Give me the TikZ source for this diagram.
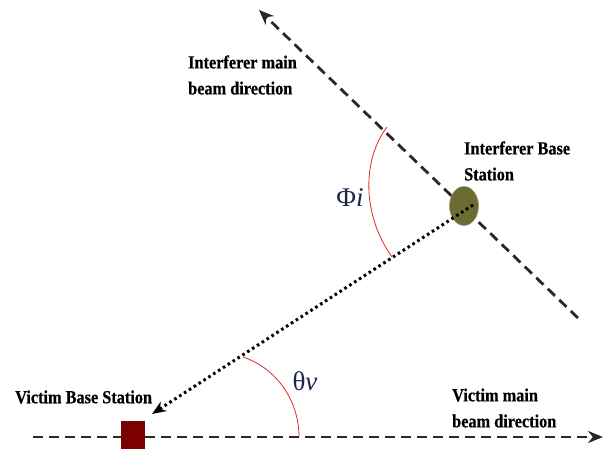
\documentclass[tikz,border=0pt]{standalone}
\usepackage{fontspec}
\setmainfont{Liberation Serif}
\newfontfamily\lblfont[FakeStretch=0.88,FakeBold=0.6]{Liberation Serif}
\usetikzlibrary{arrows.meta,shapes.geometric}
\definecolor{bsolive}{RGB}{108,108,50}
\definecolor{bsred}{RGB}{125,0,0}
\definecolor{linegray}{RGB}{40,40,40}
\definecolor{angtext}{RGB}{30,38,75}
\definecolor{arcred}{RGB}{225,40,40}
\tikzset{
  lbl/.style={font=\lblfont\bfseries\fontsize{18.5}{26}\selectfont, align=left, anchor=west, inner sep=0pt},
  beam/.style={draw=linegray, line width=2.8pt, dash pattern=on 10pt off 6pt, -{Stealth[length=15pt,width=12pt]}},
  sight/.style={draw=black, line width=3pt, dash pattern=on 2.6pt off 3.2pt, -{Stealth[length=14pt,width=11pt]}},
  anglearc/.style={draw=arcred, line width=0.8pt},
  angle label/.style={font=\fontsize{27}{27}\selectfont, text=angtext, inner sep=0pt}
}
\begin{document}
\begin{tikzpicture}[x=1pt,y=-1pt]
\useasboundingbox (0,0) rectangle (606,449);
% coordinates
\coordinate (itail) at (578,318);
\coordinate (ihead) at (259,10);
\coordinate (vtail) at (33,437);
\coordinate (vhead) at (603,437);
\coordinate (stip) at (152,414);
% beams
\draw[beam] (itail) -- (ihead);
\draw[beam] (vtail) -- (vhead);
% base stations
\node (ibs) [ellipse, fill=bsolive, draw=bsolive!70!white, line width=0.6pt, minimum width=29pt, minimum height=39pt, inner sep=0pt] at (464,206) {};
\node (vbs) [rectangle, fill=bsred, minimum width=24pt, minimum height=30pt, inner sep=0pt] at (133,436) {};
% line of sight
\coordinate (sstart) at (473,205);
\draw[sight] (sstart) -- (stip);
% angle arcs
\coordinate (pa) at (392,257);
\coordinate (pb) at (387,127);
\draw[anglearc] (pa) .. controls (362,215) and (362,160) .. (pb);
\coordinate (qa) at (299,437);
\coordinate (qb) at (243,357);
\draw[anglearc] (qa) .. controls (299,400) and (276,368) .. (qb);
% angle labels
\node[angle label] (phi) at (350,198) {Φ\textit{i}};
\node[angle label] (theta) at (305,381) {θ\textit{v}};
% text labels
\node[lbl] (t1) at (188,75) {Interferer main\\beam direction};
\node[lbl] (t2) at (464,161) {Interferer Base\\Station};
\node[lbl] (t3) at (15,397) {Victim Base Station};
\node[lbl] (t4) at (452,408) {Victim main\\beam direction};
\end{tikzpicture}
\end{document}
